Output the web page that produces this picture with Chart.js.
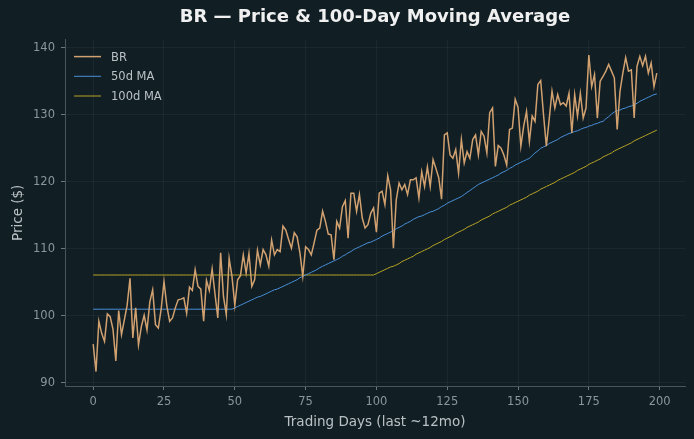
<!DOCTYPE html>
<html>
<head>
<meta charset="utf-8">
<script src="https://cdn.jsdelivr.net/npm/chart.js@4.4.1/dist/chart.umd.min.js"></script>
<style>
  html, body { margin: 0; padding: 0; background: #111f25; }
  canvas { display: block; }
</style>
</head>
<body>
<canvas id="chart" width="694" height="439"></canvas>
<script>
// closing price, trading days 0..199
const price = [
  95.8, 91.7, 99.2, 97.4, 96.2, 100.3, 99.9, 98.0, 93.3, 100.8,
  97.2, 99.4, 101.6, 105.6, 96.7, 101.2, 95.7, 98.4, 100.1, 97.9,
  102.1, 103.9, 98.7, 98.2, 101.0, 105.1, 101.5, 99.2, 99.7, 101.2,
  102.4, 102.5, 102.7, 100.4, 104.3, 103.8, 106.9, 104.4, 104.0, 99.2,
  105.3, 103.8, 107.0, 103.3, 99.7, 109.4, 102.9, 100.2, 108.6, 105.9,
  101.6, 105.4, 106.0, 109.1, 106.4, 109.3, 104.4, 105.4, 109.8, 107.6,
  109.9, 109.1, 107.4, 111.3, 109.1, 109.9, 109.6, 113.4, 112.8, 111.4,
  110.1, 112.4, 111.8, 109.4, 105.9, 110.3, 109.9, 109.1, 110.9, 112.8,
  113.1, 115.6, 114.1, 112.2, 112.1, 108.4, 114.1, 113.1, 116.3, 117.2,
  111.6, 118.3, 118.3, 115.6, 118.1, 114.6, 113.1, 113.6, 115.3, 116.1,
  112.5, 118.3, 118.6, 116.6, 120.9, 118.8, 110.1, 117.3, 119.8, 118.8,
  119.6, 118.1, 120.3, 120.3, 120.6, 117.6, 121.5, 119.3, 122.2, 119.3,
  123.3, 122.0, 120.6, 117.4, 127.0, 127.3, 124.0, 123.5, 124.8, 121.3,
  126.3, 122.8, 124.5, 123.5, 126.3, 127.0, 124.0, 127.5, 126.8, 124.3,
  130.3, 131.0, 122.3, 125.4, 125.0, 124.0, 122.5, 127.8, 128.0, 132.3,
  131.1, 125.3, 128.3, 130.5, 126.0, 129.8, 129.0, 134.5, 135.1, 130.0,
  125.3, 129.3, 133.5, 131.0, 133.0, 131.5, 131.8, 131.3, 133.2, 127.3,
  133.0, 129.8, 133.2, 129.5, 131.0, 138.9, 134.2, 136.0, 129.5, 135.0,
  135.7, 136.5, 137.5, 136.5, 135.5, 127.8, 133.5, 136.2, 138.5, 136.5,
  136.7, 129.5, 137.2, 138.7, 137.3, 138.7, 136.2, 137.7, 134.2, 136.2
];

// 50-day moving average as plotted (flat before the window fills)
const ma50 = [
  101.0, 101.0, 101.0, 101.0, 101.0, 101.0, 101.0, 101.0, 101.0, 101.0,
  101.0, 101.0, 101.0, 101.0, 101.0, 101.0, 101.0, 101.0, 101.0, 101.0,
  101.0, 101.0, 101.0, 101.0, 101.0, 101.0, 101.0, 101.0, 101.0, 101.0,
  101.0, 101.0, 101.0, 101.0, 101.0, 101.0, 101.0, 101.0, 101.0, 101.0,
  101.0, 101.0, 101.0, 101.0, 101.0, 101.0, 101.0, 101.0, 101.0, 101.0,
  101.2, 101.4, 101.6, 101.8, 102.0, 102.2, 102.4, 102.6, 102.8, 102.9,
  103.1, 103.3, 103.5, 103.7, 103.9, 104.0, 104.2, 104.4, 104.6, 104.8,
  105.0, 105.2, 105.4, 105.7, 105.9, 106.1, 106.3, 106.5, 106.7, 106.9,
  107.2, 107.4, 107.6, 107.8, 108.0, 108.2, 108.4, 108.6, 108.9, 109.1,
  109.4, 109.6, 109.9, 110.1, 110.3, 110.5, 110.7, 110.9, 111.0, 111.2,
  111.4, 111.6, 111.9, 112.1, 112.3, 112.5, 112.7, 113.0, 113.2, 113.4,
  113.7, 113.9, 114.1, 114.4, 114.6, 114.8, 114.9, 115.1, 115.3, 115.5,
  115.6, 115.8, 116.0, 116.3, 116.5, 116.8, 117.0, 117.2, 117.4, 117.6,
  117.8, 118.1, 118.4, 118.7, 119.0, 119.3, 119.6, 119.8, 120.0, 120.2,
  120.4, 120.6, 120.8, 121.0, 121.3, 121.5, 121.7, 122.0, 122.2, 122.5,
  122.7, 122.9, 123.1, 123.3, 123.5, 123.9, 124.3, 124.6, 125.0, 125.2,
  125.4, 125.7, 125.9, 126.1, 126.3, 126.6, 126.8, 127.0, 127.2, 127.3,
  127.5, 127.6, 127.8, 128.0, 128.1, 128.3, 128.4, 128.6, 128.7, 128.9,
  129.0, 129.4, 129.7, 130.1, 130.4, 130.6, 130.7, 130.9, 131.0, 131.2,
  131.3, 131.5, 131.7, 132.0, 132.2, 132.4, 132.6, 132.8, 133.0, 133.1
];

// 100-day moving average as plotted
const ma100 = [
  106.1, 106.1, 106.1, 106.1, 106.1, 106.1, 106.1, 106.1, 106.1, 106.1,
  106.1, 106.1, 106.1, 106.1, 106.1, 106.1, 106.1, 106.1, 106.1, 106.1,
  106.1, 106.1, 106.1, 106.1, 106.1, 106.1, 106.1, 106.1, 106.1, 106.1,
  106.1, 106.1, 106.1, 106.1, 106.1, 106.1, 106.1, 106.1, 106.1, 106.1,
  106.1, 106.1, 106.1, 106.1, 106.1, 106.1, 106.1, 106.1, 106.1, 106.1,
  106.1, 106.1, 106.1, 106.1, 106.1, 106.1, 106.1, 106.1, 106.1, 106.1,
  106.1, 106.1, 106.1, 106.1, 106.1, 106.1, 106.1, 106.1, 106.1, 106.1,
  106.1, 106.1, 106.1, 106.1, 106.1, 106.1, 106.1, 106.1, 106.1, 106.1,
  106.1, 106.1, 106.1, 106.1, 106.1, 106.1, 106.1, 106.1, 106.1, 106.1,
  106.1, 106.1, 106.1, 106.1, 106.1, 106.1, 106.1, 106.1, 106.1, 106.1,
  106.3, 106.5, 106.7, 106.9, 107.1, 107.3, 107.4, 107.6, 107.8, 108.1,
  108.3, 108.5, 108.7, 108.9, 109.2, 109.4, 109.6, 109.8, 110.0, 110.2,
  110.5, 110.7, 110.9, 111.1, 111.4, 111.6, 111.8, 112.0, 112.3, 112.5,
  112.7, 112.9, 113.2, 113.4, 113.6, 113.8, 114.0, 114.3, 114.5, 114.7,
  114.9, 115.2, 115.4, 115.6, 115.8, 116.0, 116.2, 116.5, 116.7, 116.9,
  117.1, 117.3, 117.5, 117.7, 118.0, 118.2, 118.4, 118.6, 118.9, 119.1,
  119.3, 119.5, 119.7, 119.9, 120.2, 120.4, 120.6, 120.8, 121.0, 121.2,
  121.4, 121.7, 121.9, 122.1, 122.3, 122.6, 122.8, 123.0, 123.2, 123.4,
  123.7, 123.9, 124.1, 124.3, 124.6, 124.8, 125.0, 125.2, 125.4, 125.6,
  125.8, 126.1, 126.3, 126.5, 126.7, 126.9, 127.1, 127.3, 127.5, 127.7
];

const xTicks = [0, 25, 50, 75, 100, 125, 150, 175, 200];
const yTicks = [90, 100, 110, 120, 130, 140];

const FONT = '"DejaVu Sans", sans-serif';
const points = arr => arr.map((v, i) => ({ x: i, y: v }));

// legend drawn inside the plot, upper left
const innerLegend = {
  id: 'innerLegend',
  afterDatasetsDraw(chart) {
    const { ctx, chartArea } = chart;
    ctx.save();
    ctx.font = '11.5px ' + FONT;
    ctx.textBaseline = 'middle';
    chart.data.datasets.forEach((ds, i) => {
      const x = chartArea.left + 9;
      const y = chartArea.top + 17 + i * 19.7;
      ctx.strokeStyle = ds.borderColor;
      ctx.lineWidth = ds.borderWidth;
      ctx.beginPath();
      ctx.moveTo(x, y);
      ctx.lineTo(x + 27, y);
      ctx.stroke();
      ctx.fillStyle = '#b9c1c5';
      ctx.fillText(ds.label, x + 37, y + 1);
    });
    ctx.restore();
  }
};

new Chart(document.getElementById('chart'), {
  type: 'line',
  data: {
    datasets: [
      {
        label: 'BR',
        data: points(price),
        borderColor: '#d2a170',
        borderWidth: 1.5,
        pointRadius: 0,
        tension: 0,
      },
      {
        label: '50d MA',
        data: points(ma50),
        borderColor: '#4a8fd8',
        borderWidth: 1,
        pointRadius: 0,
      },
      {
        label: '100d MA',
        data: points(ma100),
        borderColor: '#b8a324',
        borderWidth: 1,
        pointRadius: 0,
      },
    ],
  },
  options: {
    responsive: false,
    animation: false,
    layout: { padding: { left: 0, right: 9, top: 0, bottom: 0 } },
    plugins: {
      legend: { display: false },
      tooltip: { enabled: false },
      title: {
        display: true,
        text: 'BR — Price & 100-Day Moving Average',
        color: '#f0f0f0',
        fullSize: false,
        font: { family: FONT, size: 18, weight: 'bold' },
        padding: { top: 7, bottom: 11 },
      },
    },
    scales: {
      x: {
        type: 'linear',
        min: -9.95,
        max: 208.95,
        afterBuildTicks: s => { s.ticks = xTicks.map(v => ({ value: v })); },
        afterFit: s => { s.height = 53; },
        ticks: { color: '#8b969b', font: { family: FONT, size: 11.5 }, padding: 5, maxRotation: 0 },
        grid: { color: 'rgba(255,255,255,0.045)', tickColor: '#6c777c', tickLength: 4 },
        border: { color: '#4a565b' },
        title: {
          display: true,
          text: 'Trading Days (last ~12mo)',
          color: '#b9c1c5',
          font: { family: FONT, size: 13.5 },
          padding: { top: 4, bottom: 8 },
        },
      },
      y: {
        type: 'linear',
        min: 89.55,
        max: 141.2,
        afterBuildTicks: s => { s.ticks = yTicks.map(v => ({ value: v })); },
        afterFit: s => { s.width = 65; },
        ticks: { color: '#8b969b', font: { family: FONT, size: 11.5 }, padding: 6 },
        grid: { color: 'rgba(255,255,255,0.045)', tickColor: '#6c777c', tickLength: 4 },
        border: { color: '#4a565b' },
        title: {
          display: true,
          text: 'Price ($)',
          color: '#b9c1c5',
          font: { family: FONT, size: 13.5 },
          padding: { top: 10, bottom: 4 },
        },
      },
    },
  },
  plugins: [innerLegend],
});
</script>
</body>
</html>
